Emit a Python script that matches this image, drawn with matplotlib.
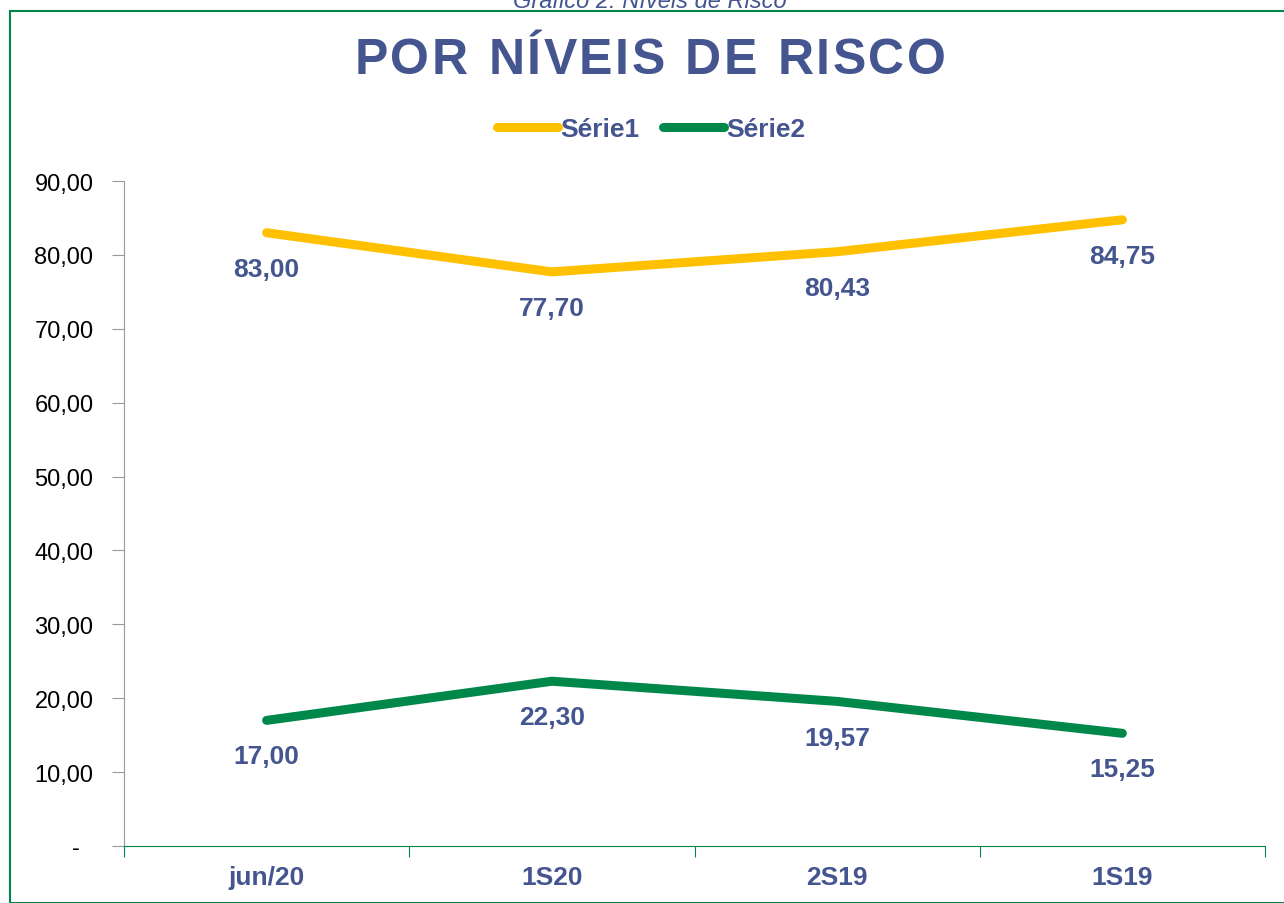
import matplotlib
matplotlib.use("Agg")
import matplotlib.pyplot as plt
from matplotlib.patches import Rectangle
from matplotlib.ticker import FuncFormatter, FixedLocator

CATS = ["jun/20", "1S20", "2S19", "1S19"]
SERIE1 = [83.00, 77.70, 80.43, 84.75]
SERIE2 = [17.00, 22.30, 19.57, 15.25]
NAMES = ["Série1", "Série2"]
TITLE = "POR NÍVEIS DE RISCO"

BLUE = "#44558F"
YELLOW = "#FFC000"
GREEN = "#00874A"

plt.rcParams["font.family"] = ["Liberation Sans", "DejaVu Sans"]

fig = plt.figure(figsize=(12.84, 9.04), dpi=100)
ax = fig.add_axes([124/1284, 1-847/904, (1265-124)/1284, (847-182)/904])

# frame of the chart area
fig.patches.append(Rectangle((10/1284, 0), 1.1, 1-12/904, transform=fig.transFigure,
                             fill=False, edgecolor=GREEN, lw=1.5))
fig.text(0.506, 1-2/904, "Gráfico 2: Níveis de Risco", ha="center", va="center",
         fontsize=17, style="italic", color=BLUE)

# title with letter spacing, drawn char by char
renderer = fig.canvas.get_renderer()
spacing = 2.5  # extra px between letters
widths = []
for ch in TITLE:
    t = fig.text(0, 0, ch if ch != " " else "n", fontsize=36, fontweight="bold")
    w = t.get_window_extent(renderer).width
    t.remove()
    widths.append(w * (0.5 if ch == " " else 1))
total = sum(widths) + spacing * (len(TITLE) - 1)
xpos = 650 - total / 2
for ch, w in zip(TITLE, widths):
    fig.text(xpos / 1284, 1 - 61/904, ch, ha="left", va="center", fontsize=36,
             fontweight="bold", color=BLUE)
    xpos += w + spacing

x = list(range(len(CATS)))
for vals, col, name in [(SERIE1, YELLOW, NAMES[0]), (SERIE2, GREEN, NAMES[1])]:
    ax.plot(x, vals, color=col, lw=6.5, solid_capstyle="round", solid_joinstyle="round", label=name)
    for xi, v in zip(x, vals):
        ax.annotate(f"{v:.2f}".replace(".", ","), (xi, v), xytext=(0, -26), textcoords="offset points",
                    ha="center", va="center", fontsize=19, fontweight="bold", color=BLUE)

ax.set_xlim(-0.5, 3.5)
ax.set_ylim(0, 90)
ax.set_yticks(range(0, 91, 10))
ax.yaxis.set_major_formatter(FuncFormatter(lambda v, p: "-  " if v == 0 else f"{v:.2f}".replace(".", ",")))
ax.tick_params(axis="y", labelsize=17, length=9, color="#999999", pad=13)

ax.xaxis.set_major_locator(FixedLocator([-0.5, 0.5, 1.5, 2.5, 3.5]))
ax.xaxis.set_minor_locator(FixedLocator(x))
ax.xaxis.set_major_formatter(FuncFormatter(lambda v, p: ""))
ax.set_xticklabels(CATS, minor=True)
ax.tick_params(axis="x", which="major", length=8, color=GREEN, direction="out")
ax.tick_params(axis="x", which="minor", length=0, labelsize=19, labelcolor=BLUE, pad=14)
for lab in ax.get_xticklabels(minor=True):
    lab.set_fontweight("bold")

for s in ["top", "right"]:
    ax.spines[s].set_visible(False)
ax.spines["left"].set_color("#999999")
ax.spines["bottom"].set_color(GREEN)

leg = ax.legend(loc="center", ncol=2, frameon=False, fontsize=19, handlelength=2.3,
                handletextpad=0.1, columnspacing=0.9)
leg.set_bbox_to_anchor((0.462, (847-130)/665), transform=ax.transAxes)
for t in leg.get_texts():
    t.set_color(BLUE)
    t.set_fontweight("bold")

fig.savefig("out.png", dpi=100)
